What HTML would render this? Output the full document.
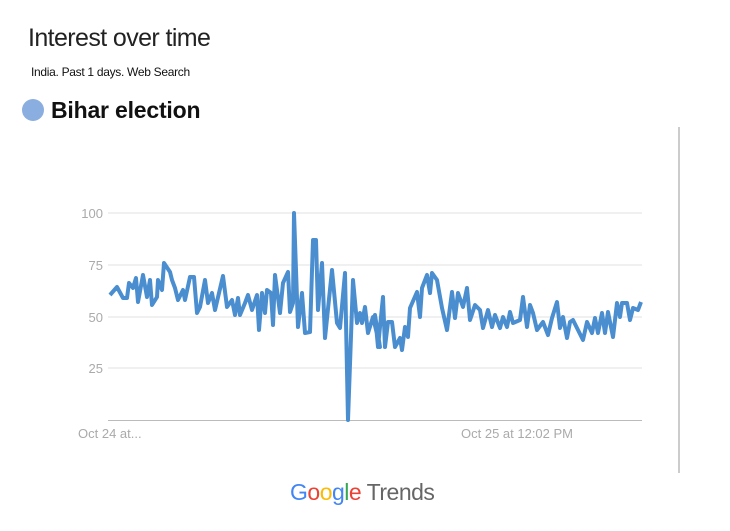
<!DOCTYPE html>
<html><head><meta charset="utf-8"><style>
body{margin:0;width:730px;height:531px;background:#fff;overflow:hidden;font-family:"Liberation Sans",sans-serif;position:relative}
.t{position:absolute;left:28px;top:24px;font-size:25px;color:#222;letter-spacing:-0.6px}
.s{position:absolute;left:31px;top:65px;font-size:12px;color:#111;letter-spacing:-0.3px}
.dot{position:absolute;left:22px;top:99px;width:22px;height:22px;border-radius:50%;background:#8aaedf}
.l{position:absolute;left:51px;top:97px;font-size:23px;font-weight:bold;color:#111;letter-spacing:-0.2px}
</style></head><body>
<div class="t">Interest over time</div>
<div class="s">India. Past 1 days. Web Search</div>
<div class="dot"></div>
<div class="l">Bihar election</div>
<svg width="730" height="531" style="position:absolute;left:0;top:0">
<g stroke="#e0e0e0" stroke-width="1">
<line x1="108" x2="642" y1="213" y2="213"/><line x1="108" x2="642" y1="265" y2="265"/>
<line x1="108" x2="642" y1="317" y2="317"/><line x1="108" x2="642" y1="368" y2="368"/>
</g>
<line x1="108" x2="642" y1="420.5" y2="420.5" stroke="#bbb"/>
<line x1="679" x2="679" y1="127" y2="473" stroke="#ccc" stroke-width="2"/>
<g font-size="13" fill="#aaa" text-anchor="end">
<text x="103" y="218">100</text><text x="103" y="270">75</text><text x="103" y="322">50</text><text x="103" y="373">25</text>
</g>
<text x="78" y="438" font-size="13" fill="#aaa">Oct 24 at...</text>
<text x="461" y="438" font-size="13" fill="#aaa">Oct 25 at 12:02 PM</text>
<polyline fill="none" stroke="#4a8ed0" stroke-width="4" stroke-linejoin="round" points="110,295 117,287 123,298 127,298 129,283 133,288 136,278 138,302 143,275 147,297 150,280 152,305 157,297 158,280 162,290 164,263 170,272 172,280 175,288 178,300 183,290 185,300 190,277 194,277 197,313 200,307 205,280 208,303 212,293 215,310 223,276 227,307 232,300 235,315 238,298 240,315 245,303 248,295 252,310 257,295 259,330 262,293 265,313 267,290 271,293 273,325 275,275 280,313 283,283 288,272 290,312 293,303 294,213 298,327 302,293 305,333 310,332 313,240 316,240 318,310 322,263 325,338 332,270 337,323 340,328 345,273 348,420 353,280 357,323 360,313 362,323 365,307 368,333 373,317 380,347 375,315 378,347 383,297 385,347 388,322 392,322 395,347 400,338 402,350 405,327 408,337 410,308 417,292 420,317 422,288 427,275 430,293 432,273 437,280 442,308 447,330 452,292 455,318 458,293 463,307 467,288 470,320 475,305 480,310 483,328 488,310 492,327 495,315 500,328 503,317 507,327 510,312 513,323 520,320 523,297 527,327 530,305 533,313 537,330 543,322 548,335 552,318 557,302 560,328 563,317 567,338 570,322 573,320 578,330 583,340 587,322 592,333 595,318 598,333 602,313 605,333 608,312 613,337 617,303 620,317 622,303 627,303 630,320 633,308 638,310 641,302"/>
<text x="290" y="500" font-size="23" letter-spacing="-0.5" font-family="Liberation Sans,sans-serif"><tspan fill="#4285f4">G</tspan><tspan fill="#ea4335">o</tspan><tspan fill="#fbbc05">o</tspan><tspan fill="#4285f4">g</tspan><tspan fill="#34a853">l</tspan><tspan fill="#ea4335">e</tspan><tspan fill="#666"> Trends</tspan></text>
</svg>
</body></html>
